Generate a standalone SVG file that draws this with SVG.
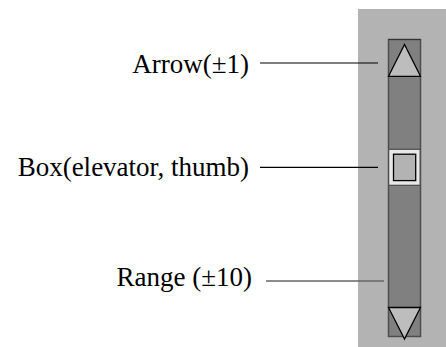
<svg xmlns="http://www.w3.org/2000/svg" width="446" height="347" viewBox="0 0 446 347">
<style>
.lbl{font-family:"Liberation Serif","Times New Roman",serif;font-size:27px;fill:#000;text-anchor:end}
.tri{fill:#bdbdbd;stroke:#000;stroke-width:1.3;stroke-linejoin:miter}
</style>
<rect x="0" y="0" width="446" height="347" fill="#fff"/>
<g id="scrollbar">
<rect x="358" y="9" width="88" height="338" fill="#b3b3b3"/>
<rect x="388.5" y="39.5" width="32" height="297" fill="#808080" stroke="#4d4d4d" stroke-width="1.5"/>
</g>
<g id="arrow-up">
<line x1="388.5" y1="39.5" x2="420.5" y2="39.5" stroke="#333" stroke-width="1.2"/>
<polygon class="tri" points="404.5,44.5 388.5,76.3 420.5,76.3"/>
</g>
<g id="arrow-down">
<polygon class="tri" points="388.5,307.5 420.5,307.5 404.5,339"/>
</g>
<g id="thumb">
<rect x="388.7" y="149.3" width="31.4" height="36" fill="#e8e8e8" stroke="#4d4d4d" stroke-width="1.2"/>
<rect x="393.5" y="154.2" width="22.2" height="26.4" fill="#b3b3b3" stroke="#000" stroke-width="1.3"/>
</g>
<g id="labels">
<text class="lbl" x="249" y="73">Arrow(±1)</text>
<text class="lbl" x="249" y="176">Box(elevator, thumb)</text>
<text class="lbl" x="252" y="286">Range (±10)</text>
</g>
<g id="connectors">
<line x1="260" y1="63" x2="378" y2="63" stroke="#000" stroke-width="1.2"/>
<line x1="260" y1="167.3" x2="378" y2="167.3" stroke="#000" stroke-width="1.2"/>
<line x1="266" y1="281" x2="384" y2="281" stroke="#666" stroke-width="1.5"/>
</g>
</svg>
